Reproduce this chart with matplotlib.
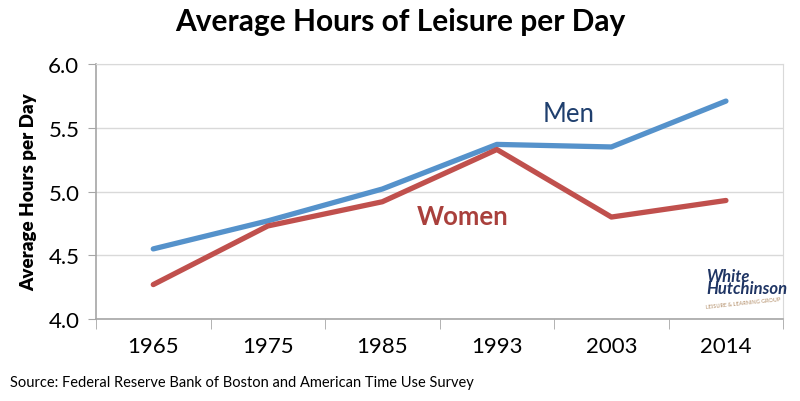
import matplotlib
matplotlib.use('Agg')
import matplotlib.pyplot as plt

# 数据
years = ["1965", "1975", "1985", "1993", "2003", "2014"]
men = [4.55, 4.77, 5.02, 5.37, 5.35, 5.71]
women = [4.27, 4.73, 4.92, 5.33, 4.80, 4.93]
yticks = [4.0, 4.5, 5.0, 5.5, 6.0]

plt.rcParams['font.family'] = ['Lato', 'DejaVu Sans']

fig = plt.figure(figsize=(8, 4.02), dpi=100)
ax = fig.add_axes([0.12, 0.204, 0.859, 0.634])

x = list(range(len(years)))
ax.plot(x, men, color='#5592CB', lw=3.8, solid_capstyle='round', zorder=3)
ax.plot(x, women, color='#C0504D', lw=3.8, solid_capstyle='round', zorder=3)

ax.set_xlim(-0.5, len(years) - 0.5)
ax.set_ylim(4.0, 6.0)
ax.set_yticks(yticks)
ax.set_yticklabels([f"{v:.1f}" for v in yticks], fontsize=16)
ax.set_xticks(x)
ax.set_xticklabels(years, fontsize=16)
ax.tick_params(axis='x', length=0, pad=12)
ax.tick_params(axis='y', length=6, color='#A6A6A6', pad=6)
# 分类边界刻度
ax.set_xticks([i - 0.5 for i in range(len(years) + 1)], minor=True)
ax.tick_params(axis='x', which='minor', length=7, color='#A6A6A6')

ax.grid(axis='y', color='#D9D9D9', lw=1)
ax.set_axisbelow(True)
for s in ['left', 'bottom']:
    ax.spines[s].set_color('#A6A6A6')
    ax.spines[s].set_linewidth(1.2)
ax.spines['right'].set_color('#D9D9D9')
ax.spines['top'].set_color('#D9D9D9')

ax.set_ylabel("Average Hours per Day", fontsize=13.5, fontweight='heavy', labelpad=8)

ax.text(3.63, 5.61, "Men", color='#1F3F6E', fontsize=18.5, ha='center', va='center')
ax.text(2.7, 4.81, "Women", color='#A9403C', fontsize=18.5, fontweight='bold',
        ha='center', va='center')

# logo
ax.text(4.83, 4.29, "White\nHutchinson", color='#1F3564', fontsize=12,
        fontstyle='italic', fontweight='bold', ha='left', va='center',
        linespacing=0.75)
ax.text(5.15, 4.13, "LEISURE & LEARNING GROUP", color='#B08A63', fontsize=4,
        ha='center', va='center', rotation=6)

fig.text(0.5, 0.945, "Average Hours of Leisure per Day", fontsize=21.5,
         fontweight='bold', ha='center', va='center')
fig.text(0.012, 0.047, "Source: Federal Reserve Bank of Boston and American Time Use Survey",
         fontsize=10.5, ha='left', va='center')

plt.savefig('out.png', dpi=100)
plt.close()
